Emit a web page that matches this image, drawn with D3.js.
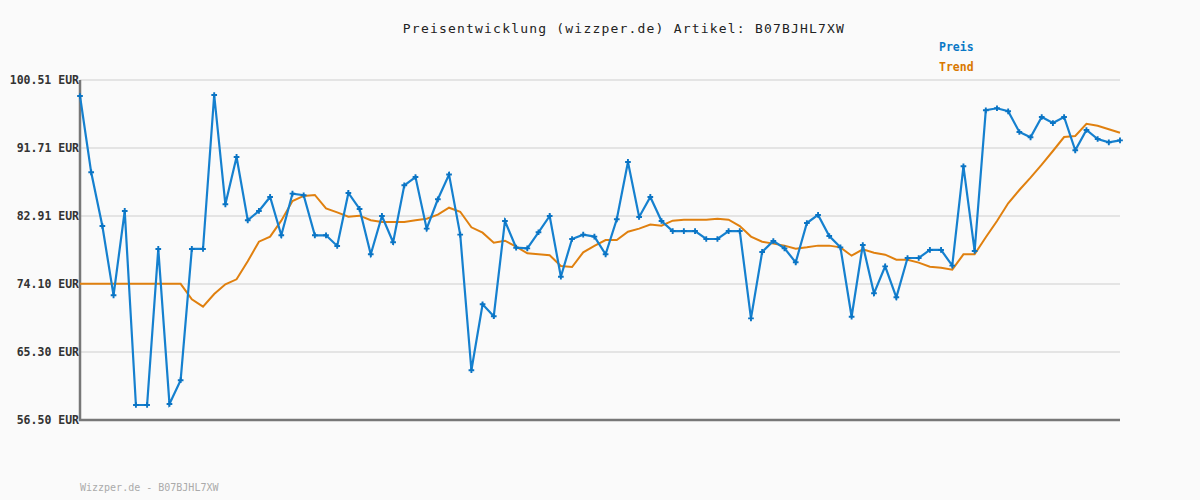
<!DOCTYPE html>
<html>
<head>
<meta charset="utf-8">
<script src="https://cdn.jsdelivr.net/npm/d3@7"></script>
<style>
  body { margin: 0; background: #fafafa; }
  svg { display: block; background: #fafafa; }
  text { font-family: "DejaVu Sans Mono", monospace; }
</style>
</head>
<body>
<script>
var width = 1200;
var height = 500;
var margin = { left: 80, right: 80, top: 80, bottom: 80 };

var title = 'Preisentwicklung (wizzper.de) Artikel: B07BJHL7XW';
var footer = 'Wizzper.de - B07BJHL7XW';
var seriesNames = ['Preis', 'Trend'];
var yTicks = [56.50, 65.30, 74.10, 82.91, 91.71, 100.51];

var preis = [98.44, 88.56, 81.61, 72.64, 83.56, 58.44, 58.44, 78.64, 58.58, 61.65,
  78.64, 78.64, 98.57, 84.42, 90.55, 82.35, 83.56, 85.37, 80.41, 85.80,
  85.59, 80.41, 80.41, 79.03, 85.89, 83.82, 77.95, 82.91, 79.51, 86.88,
  87.95, 81.27, 85.07, 88.27, 80.49, 62.94, 71.48, 69.93, 82.26, 78.80,
  78.72, 80.80, 82.91, 75.05, 79.93, 80.49, 80.24, 77.95, 82.48, 89.90,
  82.78, 85.37, 82.26, 80.96, 80.96, 80.96, 79.93, 79.93, 80.96, 80.96,
  69.66, 78.25, 79.67, 78.72, 76.91, 82.00, 83.04, 80.32, 78.85, 69.87,
  79.15, 72.90, 76.39, 72.38, 77.47, 77.47, 78.51, 78.51, 76.48, 89.34,
  78.38, 96.59, 96.85, 96.46, 93.78, 93.09, 95.72, 94.94, 95.72, 91.41,
  94.04, 92.87, 92.44, 92.70];

var trend = [74.13, 74.13, 74.13, 74.13, 74.13, 74.13, 74.13, 74.13, 74.13, 74.13,
  72.13, 71.17, 72.81, 74.07, 74.71, 77.04, 79.58, 80.24, 82.30, 84.85,
  85.50, 85.63, 83.90, 83.38, 82.82, 82.95, 82.35, 82.13, 82.13, 82.13,
  82.35, 82.56, 83.08, 83.98, 83.46, 81.44, 80.75, 79.45, 79.71, 78.93,
  78.08, 77.95, 77.82, 76.43, 76.30, 78.21, 79.03, 79.80, 79.80, 80.87,
  81.27, 81.79, 81.66, 82.30, 82.43, 82.43, 82.43, 82.56, 82.43, 81.61,
  80.24, 79.58, 79.33, 79.07, 78.67, 78.85, 79.07, 79.07, 78.85, 77.77,
  78.59, 78.16, 77.90, 77.25, 77.25, 76.87, 76.35, 76.22, 75.96, 77.95,
  77.95, 80.15, 82.26, 84.55, 86.27, 87.87, 89.55, 91.32, 93.13, 93.26,
  94.85, 94.59, 94.13, 93.69];

var colors = ['#1580cf', '#e0800f'];

var svg = d3.select('body')
            .append('svg')
            .attr('width', width)
            .attr('height', height);

var xScale = d3.scaleLinear()
               .domain([0, preis.length - 1])
               .range([margin.left, width - margin.right]);

var yScale = d3.scaleLinear()
               .domain([56.50, 100.51])
               .range([height - margin.bottom, margin.top]);

// grid
svg.selectAll('.grid')
   .data(yTicks)
   .enter()
   .append('line')
   .attr('class', 'grid')
   .attr('x1', margin.left)
   .attr('x2', width - margin.right)
   .attr('y1', function (d) { return yScale(d); })
   .attr('y2', function (d) { return yScale(d); })
   .attr('stroke', '#e4e4e4')
   .attr('stroke-width', 2);

// y labels
svg.selectAll('.ylab')
   .data(yTicks)
   .enter()
   .append('text')
   .attr('class', 'ylab')
   .attr('x', margin.left - 1)
   .attr('y', function (d) { return yScale(d) + 4; })
   .attr('text-anchor', 'end')
   .attr('font-size', 11.5)
   .attr('font-weight', 'bold')
   .attr('fill', '#333')
   .text(function (d) { return d.toFixed(2) + ' EUR'; });

// axis lines
svg.append('path')
   .attr('d', 'M' + margin.left + ',' + margin.top + 'V' + (height - margin.bottom) + 'H' + (width - margin.right))
   .attr('fill', 'none')
   .attr('stroke', '#777')
   .attr('stroke-width', 2.5);

var line = d3.line()
             .x(function (d, i) { return xScale(i); })
             .y(function (d) { return yScale(d); });

svg.append('path')
   .datum(trend)
   .attr('d', line)
   .attr('fill', 'none')
   .attr('stroke', colors[1])
   .attr('stroke-width', 2);

svg.append('path')
   .datum(preis)
   .attr('d', line)
   .attr('fill', 'none')
   .attr('stroke', colors[0])
   .attr('stroke-width', 2.2);

svg.selectAll('.mark')
   .data(preis)
   .enter()
   .append('path')
   .attr('class', 'mark')
   .attr('d', d3.symbol().type(d3.symbolCross).size(18))
   .attr('transform', function (d, i) {
       return 'translate(' + xScale(i) + ',' + yScale(d) + ')';
   })
   .attr('fill', '#0a74c4');

// title
svg.append('text')
   .attr('x', 624)
   .attr('y', 33)
   .attr('text-anchor', 'middle')
   .attr('font-size', 13)
   .attr('letter-spacing', 1.2)
   .attr('fill', '#222')
   .text(title);

// legend
svg.selectAll('.legend')
   .data(seriesNames)
   .enter()
   .append('text')
   .attr('class', 'legend')
   .attr('x', 939)
   .attr('y', function (d, i) { return 51 + i * 20; })
   .attr('font-size', 11.5)
   .attr('font-weight', 'bold')
   .attr('fill', function (d, i) { return i ? '#d97800' : '#0a78c6'; })
   .text(function (d) { return d; });

// footer
svg.append('text')
   .attr('x', 80)
   .attr('y', 491)
   .attr('font-size', 10)
   .attr('fill', '#aaa')
   .text(footer);
</script>
</body>
</html>
